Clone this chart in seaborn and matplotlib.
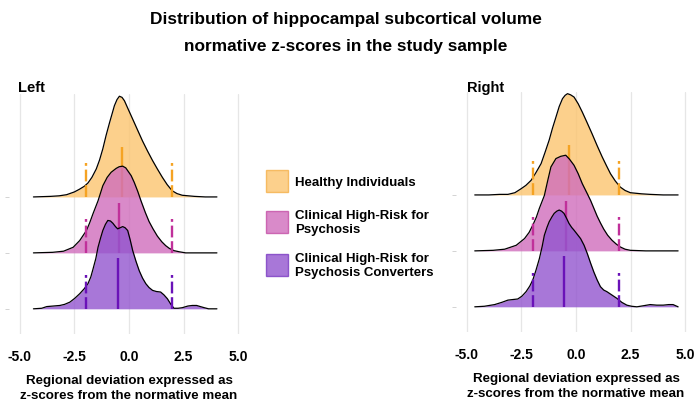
import numpy as np
import matplotlib
matplotlib.use("Agg")
import matplotlib.pyplot as plt
import seaborn as sns
from matplotlib.patches import Patch

sns.set_theme(style="whitegrid")
plt.rcParams["font.family"] = ["Liberation Sans", "DejaVu Sans"]
plt.rcParams["axes.unicode_minus"] = False
plt.rcParams["text.color"] = "black"
plt.rcParams["axes.labelcolor"] = "black"
plt.rcParams["xtick.color"] = "black"

groups = ["Healthy Individuals", "Clinical High-Risk for\nPsychosis",
          "Clinical High-Risk for\nPsychosis Converters"]
fill_colors = ["#FCC56F", "#D06DBC", "#9255CF"]
line_colors = ["#F5A323", "#C0309A", "#6A12B8"]
edge_colors = ["#F5B04A", "#C44FA6", "#7A3AC2"]

# density curves (x = z-score, h = ridge height)
left_healthy_x = [-4.38, -3.6, -3.2, -2.86, -2.5, -2.26, -2.05, -1.88, -1.7, -1.5, -1.35, -1.2, -1.05,
                  -0.89, -0.75, -0.67, -0.55, -0.44, -0.32, -0.21, -0.05, 0.17, 0.4, 0.62, 0.85, 1.08,
                  1.3, 1.53, 1.75, 1.98, 2.2, 2.44, 3.0, 3.5, 4.03]
left_healthy_h = [0, 0.01, 0.02, 0.04, 0.09, 0.14, 0.19, 0.25, 0.35, 0.5, 0.66, 0.86, 1.1,
                  1.33, 1.52, 1.63, 1.74, 1.80, 1.78, 1.72, 1.58, 1.39, 1.19, 1.0, 0.82, 0.65,
                  0.5, 0.35, 0.22, 0.11, 0.06, 0.03, 0.01, 0.0, 0.0]
left_chr_x = [-4.38, -3.5, -3.0, -2.56, -2.26, -1.95, -1.8, -1.65, -1.42, -1.2, -1.0, -0.82, -0.59,
              -0.45, -0.29, -0.15, -0.06, 0.1, 0.24, 0.4, 0.55, 0.75, 0.92, 1.1, 1.3, 1.5, 1.68,
              1.85, 2.06, 2.3, 2.6, 3.2, 4.03]
left_chr_h = [0, 0.01, 0.03, 0.1, 0.22, 0.4, 0.54, 0.7, 0.93, 1.2, 1.35, 1.44, 1.51,
              1.54, 1.55, 1.52, 1.47, 1.38, 1.26, 1.1, 0.93, 0.72, 0.56, 0.43, 0.3, 0.2, 0.13,
              0.08, 0.04, 0.02, 0.0, 0.0, 0.0]
left_conv_x = [-4.38, -4.0, -3.77, -3.47, -3.17, -2.95, -2.71, -2.48, -2.26, -2.05, -1.88, -1.75,
               -1.65, -1.52, -1.42, -1.3, -1.2, -1.08, -0.97, -0.85, -0.74, -0.62, -0.52, -0.4,
               -0.29, -0.18, -0.06, 0.05, 0.17, 0.32, 0.47, 0.62, 0.77, 0.92, 1.08, 1.25, 1.45,
               1.6, 1.76, 1.92, 2.06, 2.25, 2.44, 2.7, 2.9, 3.1, 3.27, 3.45, 3.65, 4.03]
left_conv_h = [0, 0.01, 0.04, 0.05, 0.06, 0.08, 0.12, 0.19, 0.27, 0.36, 0.45, 0.57,
               0.71, 0.9, 1.10, 1.27, 1.40, 1.51, 1.58, 1.57, 1.53, 1.47, 1.43, 1.45,
               1.47, 1.45, 1.40, 1.24, 1.04, 0.85, 0.68, 0.55, 0.45, 0.38, 0.33, 0.31, 0.30,
               0.25, 0.18, 0.08, 0.01, 0.01, 0.02, 0.05, 0.06, 0.06, 0.04, 0.02, 0.0, 0.0]

right_healthy_x = [-4.64, -4.0, -3.5, -3.12, -2.8, -2.52, -2.3, -2.06, -1.85, -1.6, -1.42, -1.23,
                   -1.08, -0.92, -0.77, -0.62, -0.5, -0.39, -0.25, -0.09, 0.1, 0.29, 0.5, 0.74,
                   0.97, 1.2, 1.4, 1.58, 1.8, 2.03, 2.25, 2.49, 3.0, 3.4, 4.0, 4.68]
right_healthy_h = [0, 0.0, 0.01, 0.01, 0.04, 0.11, 0.17, 0.26, 0.39, 0.56, 0.76, 0.98,
                   1.19, 1.39, 1.58, 1.72, 1.78, 1.81, 1.79, 1.75, 1.63, 1.48, 1.3, 1.09,
                   0.88, 0.68, 0.52, 0.38, 0.25, 0.14, 0.08, 0.04, 0.02, 0.01, 0.0, 0.0]
right_chr_x = [-4.64, -3.8, -3.27, -2.74, -2.36, -2.15, -1.98, -1.82, -1.68, -1.45, -1.3, -1.15,
               -0.92, -0.7, -0.47, -0.3, -0.09, 0.1, 0.29, 0.52, 0.67, 0.82, 0.97, 1.12, 1.27,
               1.45, 1.65, 1.85, 2.03, 2.25, 2.49, 3.2, 4.0, 4.68]
right_chr_h = [0, 0.01, 0.03, 0.1, 0.22, 0.33, 0.46, 0.6, 0.76, 0.99, 1.25, 1.5,
               1.65, 1.69, 1.71, 1.64, 1.53, 1.38, 1.2, 1.02, 0.9, 0.76, 0.62, 0.5, 0.39,
               0.28, 0.19, 0.12, 0.07, 0.03, 0.01, 0.0, 0.0, 0.0]
right_conv_x = [-4.64, -4.2, -3.73, -3.4, -3.12, -2.9, -2.67, -2.48, -2.29, -2.12, -1.98, -1.83,
                -1.68, -1.55, -1.45, -1.33, -1.23, -1.1, -1.0, -0.88, -0.77, -0.66, -0.55, -0.43,
                -0.32, -0.2, -0.09, 0.05, 0.21, 0.37, 0.52, 0.67, 0.82, 0.97, 1.12, 1.27, 1.42,
                1.65, 1.88, 2.1, 2.33, 2.55, 2.79, 3.1, 3.4, 3.7, 4.0, 4.25, 4.45, 4.68]
right_conv_h = [0, 0.01, 0.04, 0.08, 0.12, 0.13, 0.14, 0.19, 0.27, 0.37, 0.48, 0.66,
                0.86, 1.08, 1.28, 1.42, 1.52, 1.61, 1.67, 1.71, 1.73, 1.71, 1.67, 1.58,
                1.49, 1.42, 1.37, 1.3, 1.22, 1.1, 0.95, 0.78, 0.62, 0.48, 0.36, 0.3, 0.27,
                0.21, 0.15, 0.08, 0.03, 0.01, 0.0, 0.02, 0.04, 0.03, 0.03, 0.04, 0.04, 0.0]

left_medians = [-0.33, -0.44, -0.52]
right_medians = [-0.32, -0.47, -0.55]
cutoffs = [-1.96, 1.96]

xticks = [-5.0, -2.5, 0.0, 2.5, 5.0]
xtick_labels = ["-5.0", "-2.5", "0.0", "2.5", "5.0"]

fig = plt.figure(figsize=(6.96, 4.02), dpi=100)
W, H = 696, 402
ax_left = fig.add_axes([9 / W, (H - 335) / H, 240 / W, 240 / H])
ax_right = fig.add_axes([456 / W, (H - 333) / H, 240 / W, 240 / H])

panels = [
    (ax_left, [(left_healthy_x, left_healthy_h), (left_chr_x, left_chr_h), (left_conv_x, left_conv_h)],
     left_medians),
    (ax_right, [(right_healthy_x, right_healthy_h), (right_chr_x, right_chr_h), (right_conv_x, right_conv_h)],
     right_medians),
]

baselines = [2, 1, 0]
for ax, curves, medians in panels:
    for i, (xs, hs) in enumerate(curves):
        base = baselines[i]
        top = np.array(hs) + base
        z = 2 + i * 3
        ax.fill_between(xs, base, top, color=fill_colors[i], alpha=0.8, lw=0, zorder=z)
        sns.lineplot(x=xs, y=top, ax=ax, color="black", lw=0.9, sort=False,
                     estimator=None, zorder=z + 1)
        ax.vlines(medians[i], base, base + 0.9, color=line_colors[i], lw=1.7, zorder=z + 1)
        ax.vlines(cutoffs, base, base + 0.6, color=line_colors[i], lw=1.7,
                  linestyles=(0, (5, 1.6)), zorder=z + 1)
    ax.set_xlim(-5.5, 5.5)
    ax.set_ylim(-0.45, 3.84)
    ax.set_xticks(xticks)
    ax.set_xticklabels(xtick_labels, fontsize=10, fontweight="bold")
    ax.set_yticks(baselines)
    ax.set_yticklabels([])
    ax.tick_params(axis="x", length=0, pad=11)
    ax.tick_params(axis="y", left=True, length=3, width=0.6, color="#cccccc")
    ax.grid(axis="y", visible=False)
    ax.grid(axis="x", color="#e6e6e6", lw=0.9)
    for s in ax.spines.values():
        s.set_visible(False)
    ax.set_xlabel("Regional deviation expressed as\nz-scores from the normative mean",
                  fontsize=9.6, fontweight="bold", labelpad=8, linespacing=1.25)
    ax.set_ylabel("")

fig.text(18 / W, 1 - 88 / H, "Left", fontsize=10.5, fontweight="bold", va="center", ha="left")
fig.text(467 / W, 1 - 88 / H, "Right", fontsize=10.5, fontweight="bold", va="center", ha="left")
fig.text(346 / W, 1 - 33 / H,
         "Distribution of hippocampal subcortical volume\nnormative z-scores in the study sample",
         fontsize=12.4, fontweight="bold", ha="center", va="center", linespacing=2.05)

handles = [Patch(facecolor=fill_colors[i], alpha=0.8, edgecolor=edge_colors[i], lw=1)
           for i in range(3)]
fig.legend(handles, groups, loc="upper left", bbox_to_anchor=(254 / W, 1 - 159 / H),
           frameon=False, prop={"size": 9.5, "weight": "bold"}, handlelength=1.67,
           handleheight=2.19, handletextpad=0.55, labelspacing=1.3)

fig.savefig("out.png", dpi=100)
